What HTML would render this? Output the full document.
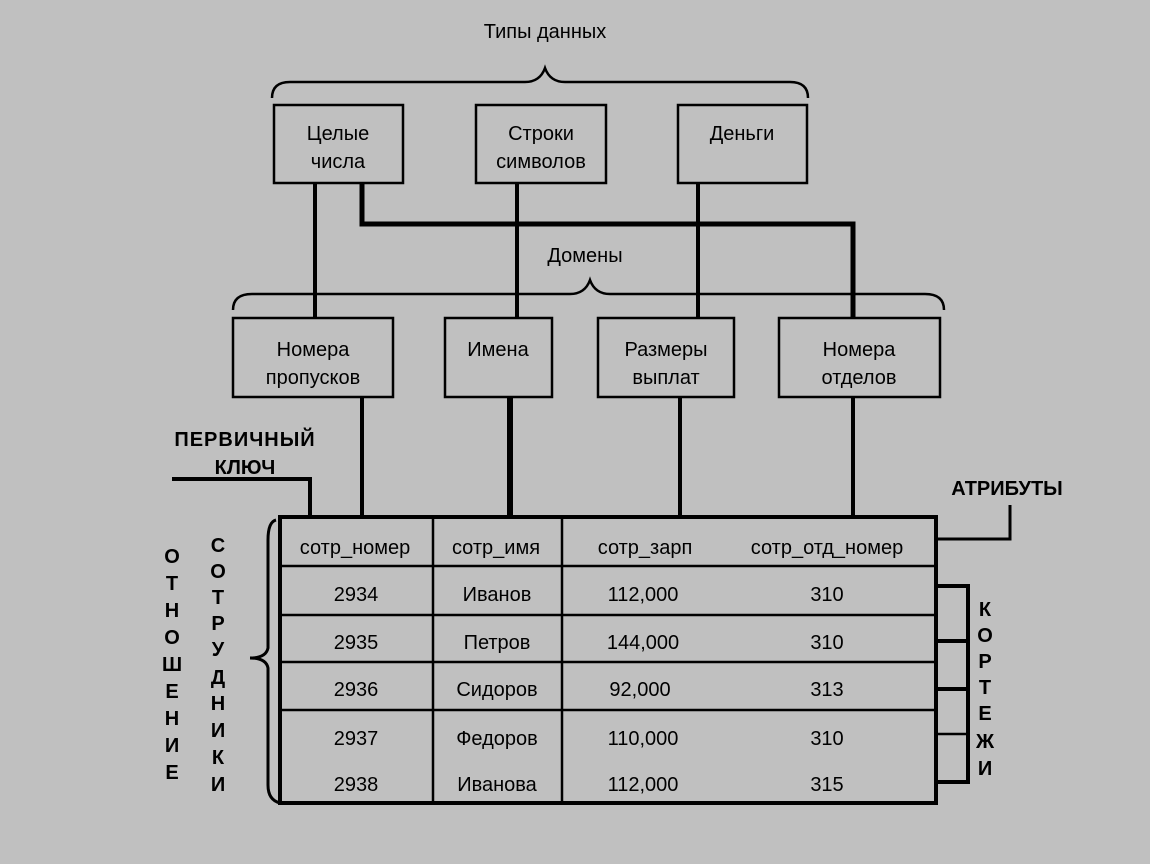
<!DOCTYPE html>
<html><head><meta charset="utf-8"><style>
html,body{margin:0;padding:0;background:#c0c0c0;}
svg{display:block}
text{font-family:"Liberation Sans",sans-serif;font-size:20px;fill:#000;}
</style></head><body>
<svg width="1150" height="864" viewBox="0 0 1150 864" xmlns="http://www.w3.org/2000/svg">
<rect width="1150" height="864" fill="#c0c0c0"/>
<g fill="none" stroke="#000" stroke-width="2.5">
<!-- top brace -->
<path d="M272,98 Q272,82 290,82 L525,82 Q540,82 545,68 Q550,82 565,82 L790,82 Q808,82 808,98"/>
<!-- lower brace -->
<path d="M233,310 Q233,294 252,294 L570,294 Q585,294 590,280 Q595,294 610,294 L925,294 Q944,294 944,310"/>
<!-- top boxes -->
<rect x="274" y="105" width="129" height="78"/>
<rect x="476" y="105" width="130" height="78"/>
<rect x="678" y="105" width="129" height="78"/>
<!-- lower boxes -->
<rect x="233" y="318" width="160" height="79"/>
<rect x="445" y="318" width="107" height="79"/>
<rect x="598" y="318" width="136" height="79"/>
<rect x="779" y="318" width="161" height="79"/>
</g>
<g stroke="#000" fill="none" stroke-width="4">
<line x1="315" y1="183" x2="315" y2="318"/>
<path d="M362,183 L362,224 L853,224 L853,318" stroke-width="5"/>
<line x1="517" y1="183" x2="517" y2="318"/>
<line x1="698" y1="183" x2="698" y2="318"/>
<line x1="362" y1="397" x2="362" y2="517"/>
<line x1="510" y1="397" x2="510" y2="517" stroke-width="6"/>
<line x1="680" y1="397" x2="680" y2="517"/>
<line x1="853" y1="397" x2="853" y2="517"/>
<path d="M172,479 L310,479 L310,517"/>
<!-- table -->
<rect x="280" y="517" width="656" height="286"/>
<path d="M1010,505 L1010,539 L936,539" stroke-width="3"/>
<path d="M936,586 L968,586 L968,782 L936,782 M936,641 L968,641 M936,689 L968,689" />
<line x1="936" y1="734" x2="968" y2="734" stroke-width="2.5"/>
<!-- left brace -->
<path d="M276,520 Q268,522 268,540 L268,648 Q266,658 250,658 Q266,658 268,668 L268,785 Q268,800 280,803" stroke-width="3"/>
</g>
<g stroke="#000" stroke-width="2.5">
<line x1="433" y1="517" x2="433" y2="803"/>
<line x1="562" y1="517" x2="562" y2="803"/>
<line x1="280" y1="566" x2="936" y2="566"/>
<line x1="280" y1="615" x2="936" y2="615"/>
<line x1="280" y1="662" x2="936" y2="662"/>
<line x1="280" y1="710" x2="936" y2="710"/>
</g>
<g text-anchor="middle">
<text x="545" y="38">Типы данных</text>
<text x="338" y="140">Целые</text><text x="338" y="168">числа</text>
<text x="541" y="140">Строки</text><text x="541" y="168">символов</text>
<text x="742" y="140">Деньги</text>
<text x="585" y="262">Домены</text>
<text x="313" y="356">Номера</text><text x="313" y="384">пропусков</text>
<text x="498" y="356">Имена</text>
<text x="666" y="356">Размеры</text><text x="666" y="384">выплат</text>
<text x="859" y="356">Номера</text><text x="859" y="384">отделов</text>
<text x="245" y="446" font-weight="bold" letter-spacing="1">ПЕРВИЧНЫЙ</text>
<text x="245" y="474" font-weight="bold">КЛЮЧ</text>
<text x="1007" y="495" font-weight="bold">АТРИБУТЫ</text>
<text x="355" y="554">сотр_номер</text>
<text x="496" y="554">сотр_имя</text>
<text x="645" y="554">сотр_зарп</text>
<text x="827" y="554">сотр_отд_номер</text>
<text x="356" y="601">2934</text><text x="497" y="601">Иванов</text><text x="643" y="601">112,000</text><text x="827" y="601">310</text>
<text x="356" y="649">2935</text><text x="497" y="649">Петров</text><text x="643" y="649">144,000</text><text x="827" y="649">310</text>
<text x="356" y="696">2936</text><text x="497" y="696">Сидоров</text><text x="640" y="696">92,000</text><text x="827" y="696">313</text>
<text x="356" y="745">2937</text><text x="497" y="745">Федоров</text><text x="643" y="745">110,000</text><text x="827" y="745">310</text>
<text x="356" y="791">2938</text><text x="497" y="791">Иванова</text><text x="643" y="791">112,000</text><text x="827" y="791">315</text>
</g>
<g text-anchor="middle" font-weight="bold">
<text x="172" y="563">О</text><text x="172" y="590">Т</text><text x="172" y="617">Н</text><text x="172" y="644">О</text><text x="172" y="671">Ш</text><text x="172" y="698">Е</text><text x="172" y="725">Н</text><text x="172" y="752">И</text><text x="172" y="779">Е</text>
<text x="218" y="552">С</text><text x="218" y="578">О</text><text x="218" y="604">Т</text><text x="218" y="630">Р</text><text x="218" y="656">У</text><text x="218" y="684">Д</text><text x="218" y="710">Н</text><text x="218" y="737">И</text><text x="218" y="764">К</text><text x="218" y="791">И</text>
<text x="985" y="616">К</text><text x="985" y="642">О</text><text x="985" y="668">Р</text><text x="985" y="694">Т</text><text x="985" y="720">Е</text><text x="985" y="748">Ж</text><text x="985" y="775">И</text>
</g>
</svg>
</body></html>
